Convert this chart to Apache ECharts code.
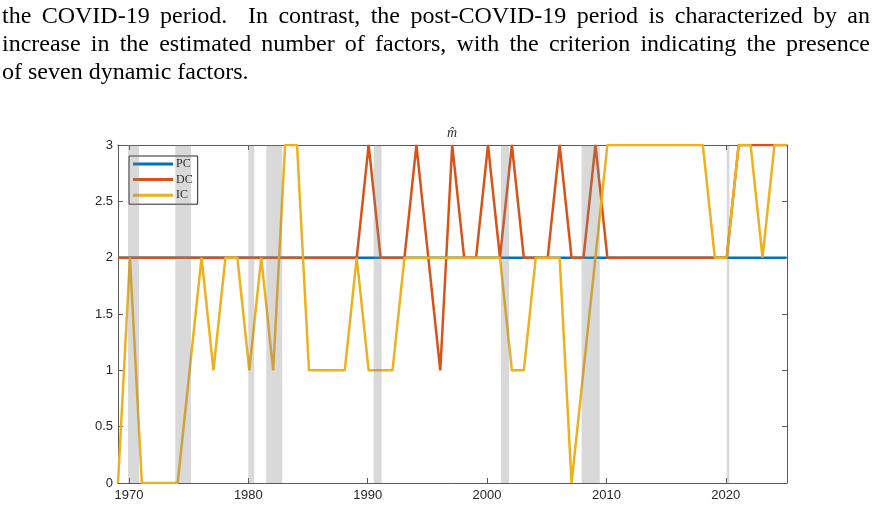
<!DOCTYPE html>
<html>
<head>
<meta charset="utf-8">
<script src="https://cdn.jsdelivr.net/npm/echarts@6/dist/echarts.min.js"></script>
<style>
  html, body { margin: 0; padding: 0; background: #fff; }
  #wrap { position: relative; width: 875px; height: 508px; overflow: hidden; }
  #foldChart { position: absolute; left: 0; top: 0; width: 875px; height: 508px; }
  #para { position: absolute; left: 2px; top: 1px; width: 868px; z-index: 2;
    font-family: "Liberation Serif", "DejaVu Serif", serif; font-size: 24px; line-height: 28px; color: #000; }
  #para .j { text-align: justify; text-align-last: justify; white-space: nowrap; }
  #para .l { text-align: left; }
</style>
</head>
<body>
<div id="wrap">
  <div id="foldChart"></div>
  <div id="para">
    <div class="j">the COVID-19 period.&nbsp; In contrast, the post-COVID-19 period is characterized by an</div>
    <div class="j">increase in the estimated number of factors, with the criterion indicating the presence</div>
    <div class="l">of seven dynamic factors.</div>
  </div>
</div>
<script>
// years of the estimates (points sit a month into the year)
let years = [1969, 1970, 1971, 1972, 1973, 1974, 1975, 1976, 1977, 1978,
  1979, 1980, 1981, 1982, 1983, 1984, 1985, 1986, 1987, 1988,
  1989, 1990, 1991, 1992, 1993, 1994, 1995, 1996, 1997, 1998,
  1999, 2000, 2001, 2002, 2003, 2004, 2005, 2006, 2007, 2008,
  2009, 2010, 2011, 2012, 2013, 2014, 2015, 2016, 2017, 2018,
  2019, 2020, 2021, 2022, 2023, 2024, 2025];
let yearOffset = 0.08;

let pc = [2, 2, 2, 2, 2, 2, 2, 2, 2, 2,
  2, 2, 2, 2, 2, 2, 2, 2, 2, 2,
  2, 2, 2, 2, 2, 2, 2, 2, 2, 2,
  2, 2, 2, 2, 2, 2, 2, 2, 2, 2,
  2, 2, 2, 2, 2, 2, 2, 2, 2, 2,
  2, 2, 2, 2, 2, 2, 2];
let dc = [2, 2, 2, 2, 2, 2, 2, 2, 2, 2,
  2, 2, 2, 2, 2, 2, 2, 2, 2, 2,
  2, 3, 2, 2, 2, 3, 2, 1, 3, 2,
  2, 3, 2, 3, 2, 2, 2, 3, 2, 2,
  3, 2, 2, 2, 2, 2, 2, 2, 2, 2,
  2, 2, 3, 3, 3, 3, 3];
let ic = [0, 2, 0, 0, 0, 0, 1, 2, 1, 2,
  2, 1, 2, 1, 3, 3, 1, 1, 1, 1,
  2, 1, 1, 1, 2, 2, 2, 2, 2, 2,
  2, 2, 2, 1, 1, 2, 2, 2, 0, 1,
  2, 3, 3, 3, 3, 3, 3, 3, 3, 3,
  2, 2, 3, 3, 2, 3, 3];

// NBER recessions, start / end as decimal years
let recStart = [1969.92, 1973.88, 1980.0, 1981.5, 1990.5, 2001.17, 2007.92, 2020.08];
let recEnd = [1970.84, 1975.2, 1980.5, 1982.84, 1991.17, 2001.84, 2009.45, 2020.3];

let xTicks = [1970, 1980, 1990, 2000, 2010, 2020];

let colors = ['#0072BD', '#D95319', '#EDB120'];

function pairs(vals) {
  return years.map(function (y, i) { return [y + yearOffset, vals[i]]; });
}

let foldChart = echarts.init(document.getElementById('foldChart'));

let axisCol = '#5a5a5a';
let labelFont = { fontFamily: '"Liberation Sans", Arial, sans-serif', fontSize: 13, color: '#262626' };

let xBase = {
  type: 'value',
  min: 1969.08,
  max: 2025.13,
  splitLine: { show: false },
  axisLine: { show: true, onZero: false, lineStyle: { color: axisCol, width: 1 } },
  axisTick: { show: true, inside: true, length: 5, customValues: xTicks, lineStyle: { color: axisCol } }
};
let yBase = {
  type: 'value',
  min: 0,
  max: 3,
  interval: 0.5,
  splitLine: { show: false },
  axisLine: { show: true, onZero: false, lineStyle: { color: axisCol, width: 1 } },
  axisTick: { show: true, inside: true, length: 5, lineStyle: { color: axisCol } }
};

let option = {
  backgroundColor: '#fff',
  animation: false,
  color: colors,
  grid: { left: 118, right: 88, top: 145, bottom: 25, containLabel: false },
  graphic: [{
    type: 'text',
    x: 452, y: 133,
    style: {
      text: 'm\u0302',
      font: 'italic 14px "Liberation Serif", serif',
      fill: '#333',
      align: 'center',
      verticalAlign: 'middle'
    }
  }],
  legend: {
    data: ['PC', 'DC', 'IC'],
    orient: 'vertical',
    left: 129,
    top: 156,
    icon: 'rect',
    padding: [2, 5, 3, 4],
    itemGap: 3.6,
    itemWidth: 40,
    itemHeight: 3,
    backgroundColor: '#fff',
    borderColor: '#262626',
    borderWidth: 1,
    borderRadius: 0,
    textStyle: { fontFamily: '"Liberation Serif", serif', fontSize: 12, lineHeight: 12, color: '#000', padding: [0, 0, 0, -2] }
  },
  xAxis: [
    Object.assign({}, xBase, {
      position: 'bottom',
      axisLabel: Object.assign({ show: true, margin: 6, customValues: xTicks, formatter: function (v) { return String(v); } }, labelFont)
    }),
    Object.assign({}, xBase, { position: 'top', axisLabel: { show: false } })
  ],
  yAxis: [
    Object.assign({}, yBase, {
      position: 'left',
      axisLabel: Object.assign({ show: true, margin: 5, formatter: function (v) { return String(v); } }, labelFont)
    }),
    Object.assign({}, yBase, { position: 'right', axisLabel: { show: false } })
  ],
  series: [
    { name: 'PC', type: 'line', symbol: 'none', z: 2, lineStyle: { width: 2.5, color: colors[0] }, data: pairs(pc) },
    { name: 'DC', type: 'line', symbol: 'none', z: 3, lineStyle: { width: 2.5, color: colors[1] }, data: pairs(dc) },
    { name: 'IC', type: 'line', symbol: 'none', z: 4, lineStyle: { width: 2.5, color: colors[2] }, data: pairs(ic) },
    {
      name: 'rec', type: 'line', symbol: 'none', z: 6, data: [],
      markArea: {
        silent: true,
        z: 6,
        itemStyle: { color: 'rgba(128,128,128,0.3)' },
        data: recStart.map(function (s, i) { return [{ xAxis: s }, { xAxis: recEnd[i] }]; })
      }
    }
  ]
};

foldChart.setOption(option);
</script>
</body>
</html>
